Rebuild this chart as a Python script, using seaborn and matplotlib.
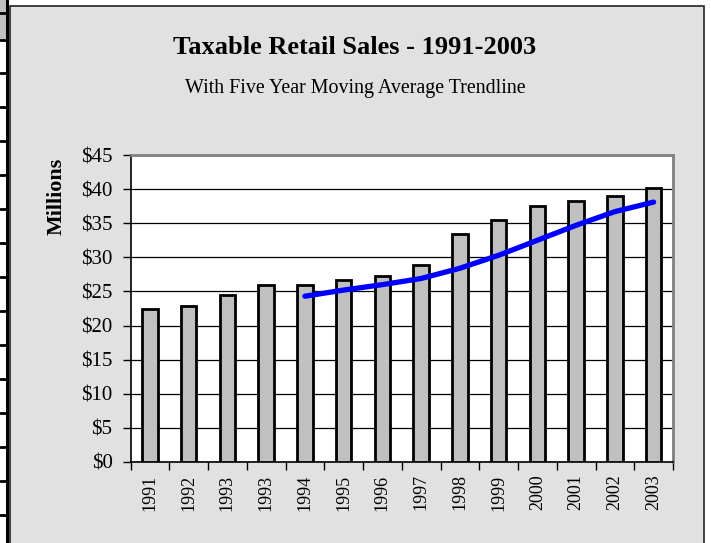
import numpy as np
import pandas as pd
import seaborn as sns
import matplotlib.pyplot as plt
from matplotlib.patches import Rectangle
from matplotlib.lines import Line2D
from matplotlib.ticker import FuncFormatter, FixedLocator

sns.set_theme(style="white")
plt.rcParams["font.family"] = ["Liberation Serif", "DejaVu Serif"]
plt.rcParams["text.color"] = "black"
plt.rcParams["axes.labelcolor"] = "black"
plt.rcParams["xtick.color"] = "black"
plt.rcParams["ytick.color"] = "black"

# values (millions of dollars)
years = ["1991", "1992", "1993", "1993", "1994", "1995", "1996",
         "1997", "1998", "1999", "2000", "2001", "2002", "2003"]
sales = [22.5, 22.8, 24.5, 25.9, 25.9, 26.7, 27.2,
         28.9, 33.4, 35.5, 37.5, 38.2, 39.0, 40.2]
# five year moving average trendline, starts at the 5th bar
trend = [24.3, 25.2, 26.0, 26.9, 28.4, 30.3, 32.5, 34.7, 36.7, 38.1]

bg = "#E1E1E1"

df = pd.DataFrame({"pos": np.arange(len(years)), "sales": sales})
tdf = pd.DataFrame({"pos": df["pos"].iloc[len(years) - len(trend):].values,
                    "trend": trend})

fig = plt.figure(figsize=(7.11, 5.43), dpi=100)
fig.patch.set_facecolor("white")

# chart area background + frame
fig.patches.append(Rectangle((9.5 / 711, -0.01), (703.5 - 9.5) / 711, 1.01 - 5.5 / 543,
                             transform=fig.transFigure, facecolor=bg,
                             edgecolor="#222222", linewidth=1.2, zorder=-2))
# spreadsheet strip on the left edge
fig.patches.append(Rectangle((0, 1 - 39.5 / 543), 6.5 / 711, 39.5 / 543,
                             transform=fig.transFigure, facecolor="#C0C0C0",
                             edgecolor="none", zorder=-2))
fig.lines.append(Line2D([6.5 / 711, 6.5 / 711], [0, 1], transform=fig.transFigure,
                        color="black", linewidth=2.2, zorder=-1))
for yy in [12.5] + [39.5 + 33.96 * k for k in range(15)]:
    fig.lines.append(Line2D([0, 6.5 / 711], [1 - yy / 543] * 2,
                            transform=fig.transFigure, color="black",
                            linewidth=2, zorder=-1))

ax = fig.add_axes([130.5 / 711, 81 / 543, 542.5 / 711, 307 / 543])
ax.set_facecolor("white")

sns.barplot(data=df, x="pos", y="sales", native_scale=True, width=0.4,
            color="#C0C0C0", saturation=1, edgecolor="black", linewidth=2,
            ax=ax, zorder=3)
sns.lineplot(data=tdf, x="pos", y="trend", color="#0000FF", linewidth=3.8,
             ax=ax, zorder=4, solid_capstyle="round", solid_joinstyle="round")

ax.set_xlim(-0.5, len(years) - 0.5)
ax.set_ylim(0, 45)
ax.set_yticks(np.arange(0, 46, 5))
ax.yaxis.set_major_formatter(FuncFormatter(lambda v, p: f"${v:.0f}"))
ax.grid(axis="y", color="black", linewidth=0.9, zorder=1)
ax.set_axisbelow(True)

ax.set_xticks(df["pos"])
ax.set_xticklabels(years, rotation=90)
ax.xaxis.set_minor_locator(FixedLocator(np.arange(-0.5, len(years), 1.0)))
ax.tick_params(axis="x", which="major", length=0, pad=9, labelsize=13)
ax.tick_params(axis="x", which="minor", length=6, width=1, color="black",
               direction="out", bottom=True)
ax.tick_params(axis="y", length=6, width=1, color="black", direction="out",
               left=True, labelsize=15, pad=7)

for s in ["left", "bottom"]:
    ax.spines[s].set_color("black")
    ax.spines[s].set_linewidth(1.2)
for s in ["top", "right"]:
    ax.spines[s].set_color("#808080")
    ax.spines[s].set_linewidth(2)

ax.set_xlabel("")
ax.set_ylabel("Millions", fontsize=15.8, fontweight="bold")
ax.yaxis.set_label_coords(-0.118, 0.866)

fig.text(355 / 711, 1 - 48 / 543, "Taxable Retail Sales - 1991-2003",
         ha="center", va="center", fontsize=19, fontweight="bold")
fig.text(355 / 711, 1 - 88 / 543, "With Five Year Moving Average Trendline",
         ha="center", va="center", fontsize=14.4)

fig.savefig("out.png", dpi=100, facecolor=fig.get_facecolor())
